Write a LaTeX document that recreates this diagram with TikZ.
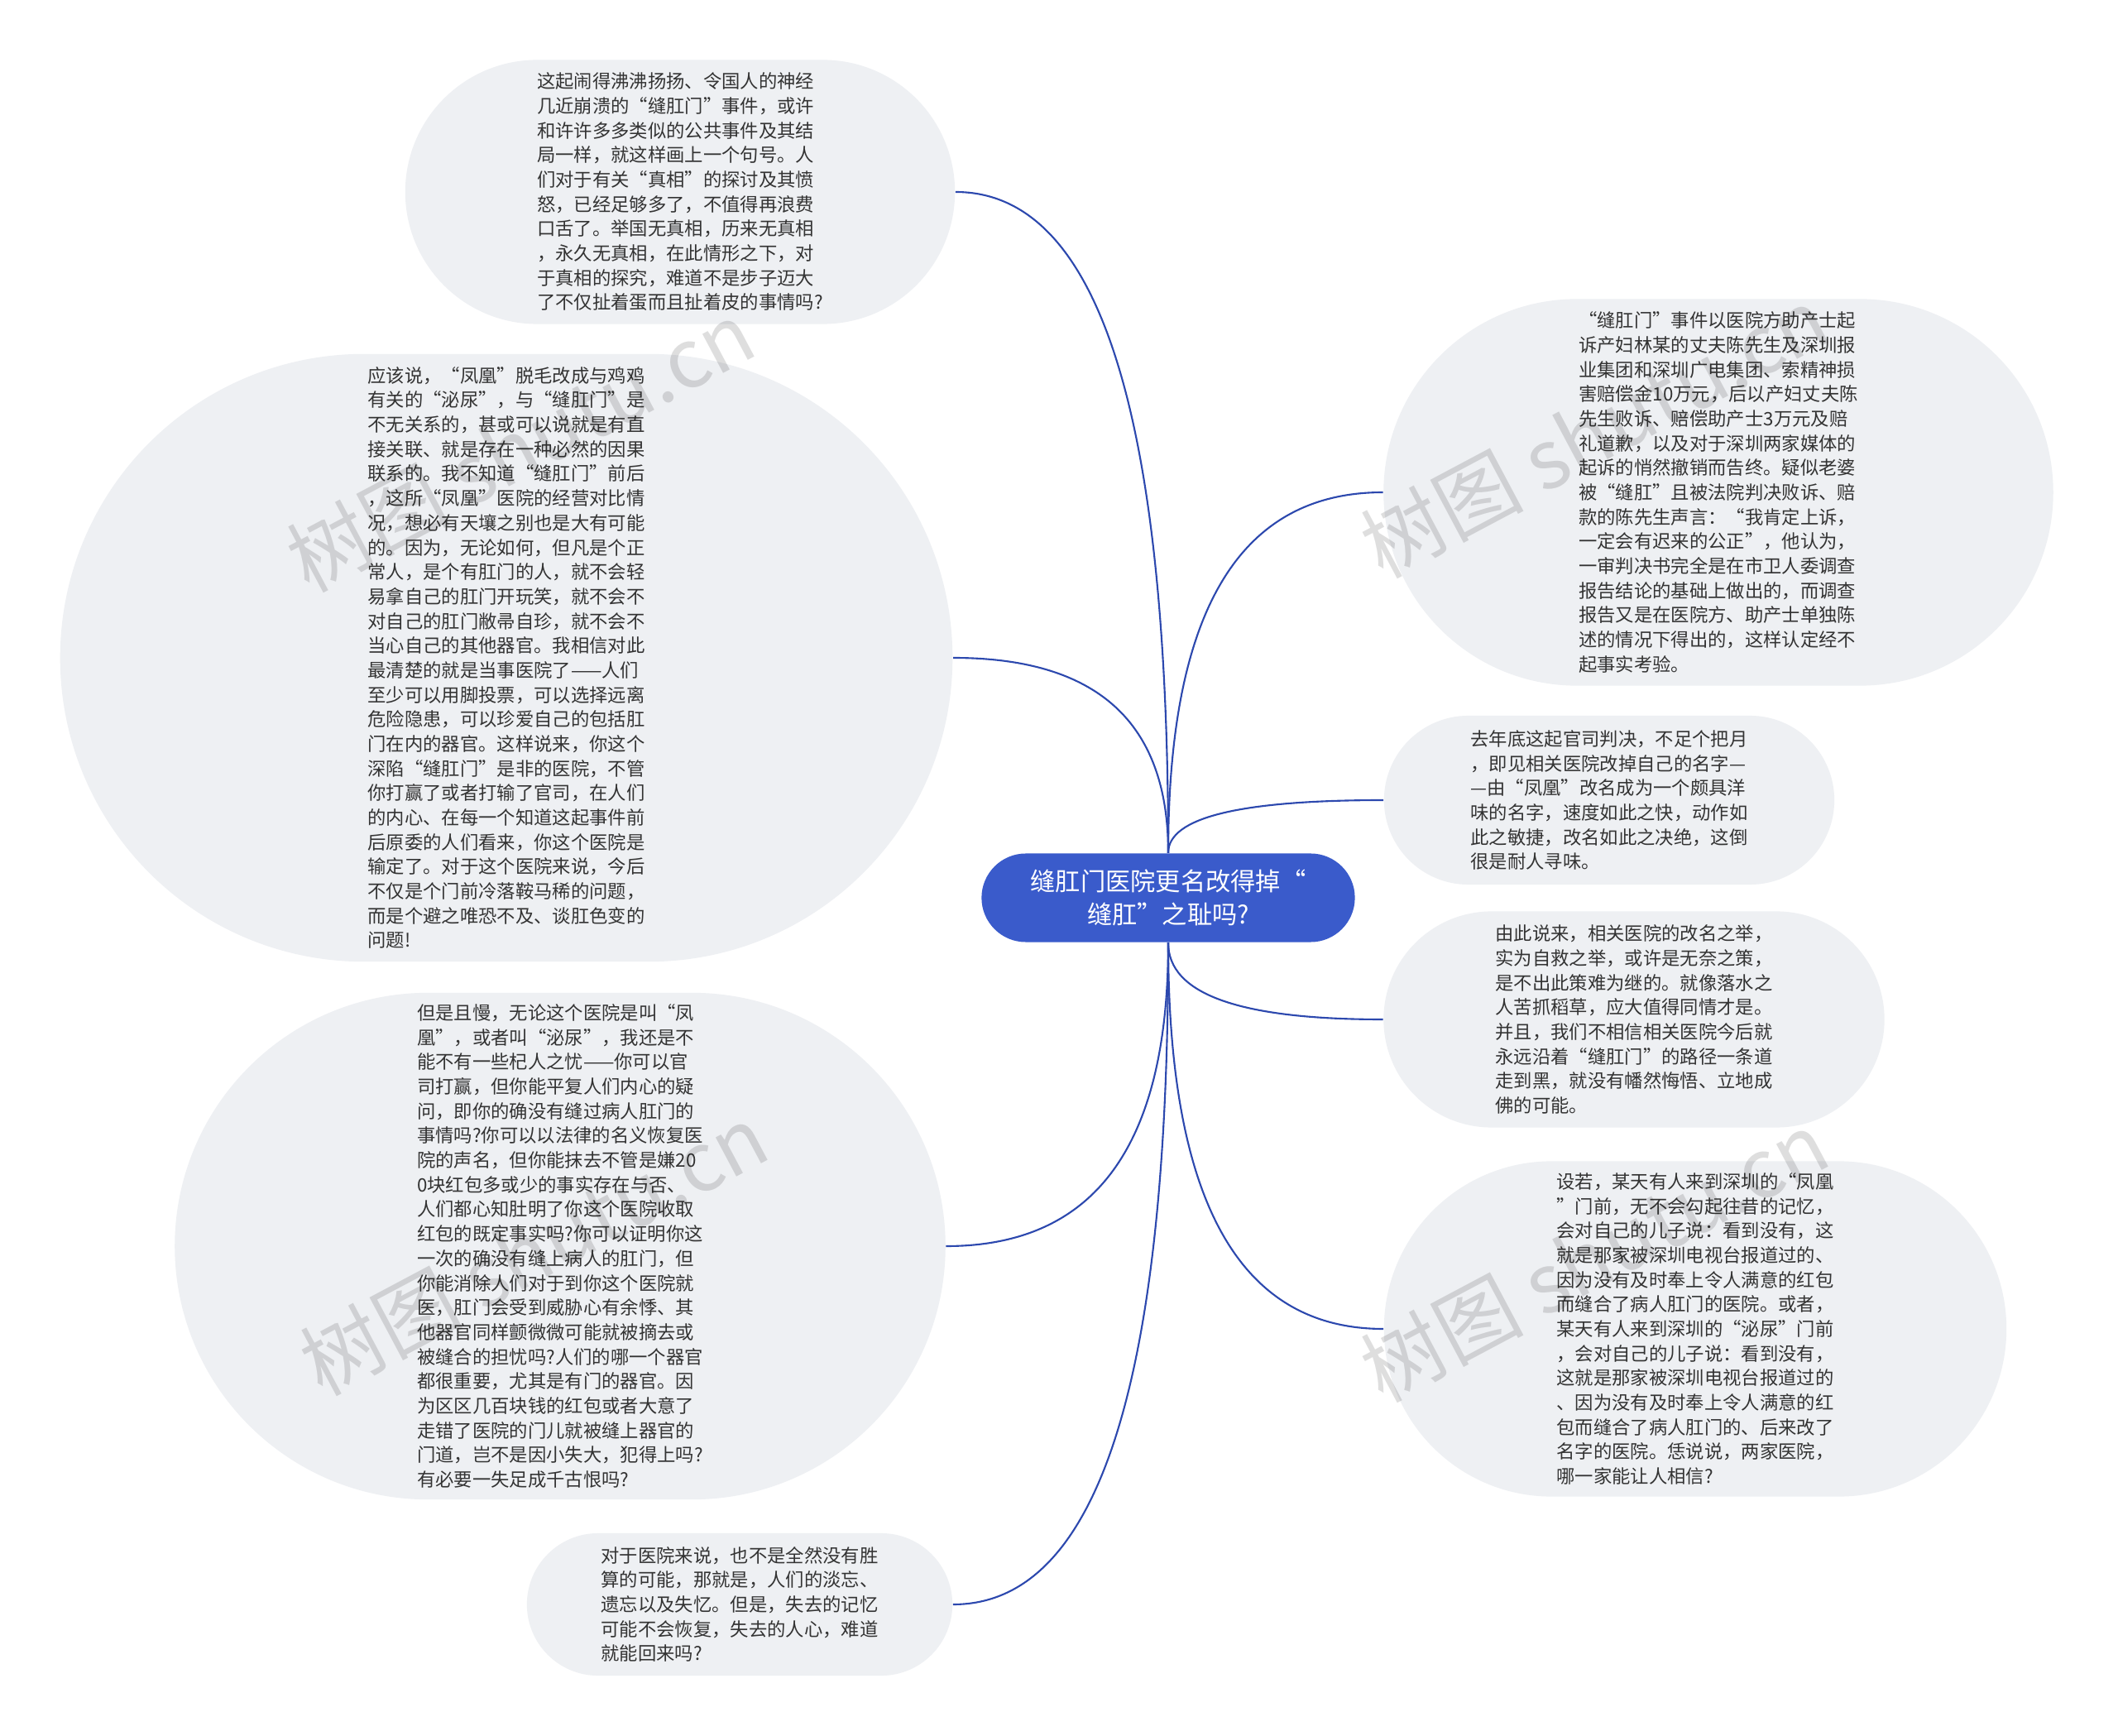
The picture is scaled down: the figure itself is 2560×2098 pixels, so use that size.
\documentclass[tikz,border=0pt]{standalone}
\usepackage{fontspec}
\newfontfamily\cjk{Noto Sans CJK SC}
\usepackage{xcolor}
\definecolor{mapBlue}{HTML}{3A5BCB}
\definecolor{mapLine}{HTML}{2C48AE}
\definecolor{mapLeaf}{HTML}{EEF0F3}
\definecolor{mapText}{HTML}{333333}
\usepackage{tikz}
\usetikzlibrary{calc,shapes.misc}

\begin{document}
\begin{tikzpicture}[x=0.01cm, y=-0.01cm,
  leaf/.style={rounded rectangle, fill=mapLeaf, text=mapText, align=left, inner sep=0pt,
    font=\cjk\fontsize{6.35}{8.44}\selectfont},
  hub/.style={rounded rectangle, fill=mapBlue, text=white, align=center, inner sep=0pt,
    font=\cjk\fontsize{8.6}{11.6}\selectfont, minimum width=4.51cm, minimum height=1.07cm},
  branch/.style={draw=mapLine, line width=0.6pt,
    to path={.. controls ($(\tikztostart)!0.67!(\tikztostart |- \tikztotarget)$)
      and ($(\tikztotarget)!0.67!(\tikztostart |- \tikztotarget)$) .. (\tikztotarget)}},
  wmark/.style={text=black, opacity=0.13, font=\cjk\fontsize{28}{30}\selectfont, rotate=28}]
  \fill[white] (0,0) rectangle (2560,2098);
  \useasboundingbox (0,0) rectangle (2560,2098);
  % ---- centre ----
  \node[hub] (hub) at (1412,1085) {缝肛门医院更名改得掉“\\缝肛”之耻吗?};
  % ---- left side ----
  \node[leaf, minimum width=6.64cm, minimum height=3.19cm] (n1) at (822,232)
    {这起闹得沸沸扬扬、令国人的神经\\几近崩溃的“缝肛门”事件，或许\\和许许多多类似的公共事件及其结\\局一样，就这样画上一个句号。人\\们对于有关“真相”的探讨及其愤\\怒，已经足够多了，不值得再浪费\\口舌了。举国无真相，历来无真相\\，永久无真相，在此情形之下，对\\于真相的探究，难道不是步子迈大\\了不仅扯着蛋而且扯着皮的事情吗?};
  \node[leaf, minimum width=10.78cm, minimum height=7.34cm] (n2) at (612,795)
    {应该说，“凤凰”脱毛改成与鸡鸡\\有关的“泌尿”，与“缝肛门”是\\不无关系的，甚或可以说就是有直\\接关联、就是存在一种必然的因果\\联系的。我不知道“缝肛门”前后\\，这所“凤凰”医院的经营对比情\\况，想必有天壤之别也是大有可能\\的。因为，无论如何，但凡是个正\\常人，是个有肛门的人，就不会轻\\易拿自己的肛门开玩笑，就不会不\\对自己的肛门敝帚自珍，就不会不\\当心自己的其他器官。我相信对此\\最清楚的就是当事医院了——人们\\至少可以用脚投票，可以选择远离\\危险隐患，可以珍爱自己的包括肛\\门在内的器官。这样说来，你这个\\深陷“缝肛门”是非的医院，不管\\你打赢了或者打输了官司，在人们\\的内心、在每一个知道这起事件前\\后原委的人们看来，你这个医院是\\输定了。对于这个医院来说，今后\\不仅是个门前冷落鞍马稀的问题，\\而是个避之唯恐不及、谈肛色变的\\问题!};
  \node[leaf, minimum width=9.31cm, minimum height=6.12cm] (n3) at (677,1506)
    {但是且慢，无论这个医院是叫“凤\\凰”，或者叫“泌尿”，我还是不\\能不有一些杞人之忧——你可以官\\司打赢，但你能平复人们内心的疑\\问，即你的确没有缝过病人肛门的\\事情吗?你可以以法律的名义恢复医\\院的声名，但你能抹去不管是嫌20\\0块红包多或少的事实存在与否、\\人们都心知肚明了你这个医院收取\\红包的既定事实吗?你可以证明你这\\一次的确没有缝上病人的肛门，但\\你能消除人们对于到你这个医院就\\医，肛门会受到威胁心有余悸、其\\他器官同样颤微微可能就被摘去或\\被缝合的担忧吗?人们的哪一个器官\\都很重要，尤其是有门的器官。因\\为区区几百块钱的红包或者大意了\\走错了医院的门儿就被缝上器官的\\门道，岂不是因小失大，犯得上吗?\\有必要一失足成千古恨吗?};
  \node[leaf, minimum width=5.14cm, minimum height=1.72cm] (n4) at (894,1939)
    {对于医院来说，也不是全然没有胜\\算的可能，那就是，人们的淡忘、\\遗忘以及失忆。但是，失去的记忆\\可能不会恢复，失去的人心，难道\\就能回来吗?};
  % ---- right side ----
  \node[leaf, minimum width=8.09cm, minimum height=4.67cm] (n5) at (2077,595)
    {“缝肛门”事件以医院方助产士起\\诉产妇林某的丈夫陈先生及深圳报\\业集团和深圳广电集团、索精神损\\害赔偿金10万元，后以产妇丈夫陈\\先生败诉、赔偿助产士3万元及赔\\礼道歉，以及对于深圳两家媒体的\\起诉的悄然撤销而告终。疑似老婆\\被“缝肛”且被法院判决败诉、赔\\款的陈先生声言：“我肯定上诉，\\一定会有迟来的公正”，他认为，\\一审判决书完全是在市卫人委调查\\报告结论的基础上做出的，而调查\\报告又是在医院方、助产士单独陈\\述的情况下得出的，这样认定经不\\起事实考验。};
  \node[leaf, minimum width=5.44cm, minimum height=2.04cm] (n6) at (1945,967)
    {去年底这起官司判决，不足个把月\\，即见相关医院改掉自己的名字—\\—由“凤凰”改名成为一个颇具洋\\味的名字，速度如此之快，动作如\\此之敏捷，改名如此之决绝，这倒\\很是耐人寻味。};
  \node[leaf, minimum width=6.05cm, minimum height=2.61cm] (n7) at (1975,1232)
    {由此说来，相关医院的改名之举，\\实为自救之举，或许是无奈之策，\\是不出此策难为继的。就像落水之\\人苦抓稻草，应大值得同情才是。\\并且，我们不相信相关医院今后就\\永远沿着“缝肛门”的路径一条道\\走到黑，就没有幡然悔悟、立地成\\佛的可能。};
  \node[leaf, minimum width=7.52cm, minimum height=4.05cm] (n8) at (2049,1606)
    {设若，某天有人来到深圳的“凤凰\\”门前，无不会勾起往昔的记忆，\\会对自己的儿子说：看到没有，这\\就是那家被深圳电视台报道过的、\\因为没有及时奉上令人满意的红包\\而缝合了病人肛门的医院。或者，\\某天有人来到深圳的“泌尿”门前\\，会对自己的儿子说：看到没有，\\这就是那家被深圳电视台报道过的\\、因为没有及时奉上令人满意的红\\包而缝合了病人肛门的、后来改了\\名字的医院。恁说说，两家医院，\\哪一家能让人相信?};
  % ---- branches ----
  \foreach \n in {n1,n2} \draw[branch] (hub.north) to (\n.east);
  \foreach \n in {n3,n4} \draw[branch] (hub.south) to (\n.east);
  \foreach \n in {n5,n6} \draw[branch] (hub.north) to (\n.west);
  \foreach \n in {n7,n8} \draw[branch] (hub.south) to (\n.west);
  % ---- watermarks ----
  \foreach \wx/\wy [count=\i] in {629/539, 1927/522, 645/1510, 1927/1518}
    \node[wmark] (wm\i) at (\wx,\wy) {树图 shutu.cn};
\end{tikzpicture}
\end{document}
